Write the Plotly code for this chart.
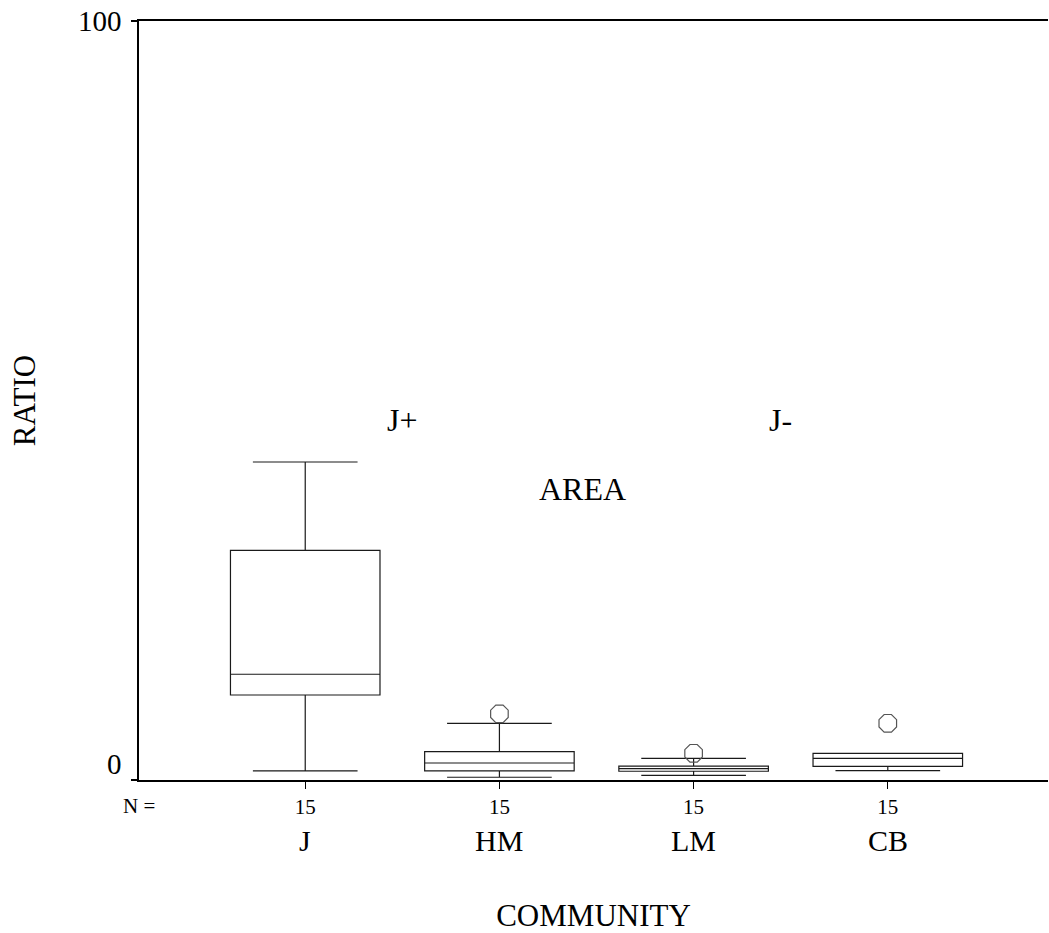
import plotly.graph_objects as go

# ---- data ----
categories = ["J", "HM", "LM", "CB"]
n_counts = ["15", "15", "15", "15"]
lower_whisker = [1.19, 0.36, 0.62, 1.23]
q1_vals = [11.2, 1.19, 1.15, 1.80]
median_vals = [13.93, 2.24, 1.50, 2.86]
q3_vals = [30.26, 3.73, 1.84, 3.52]
upper_whisker = [41.9, 7.47, 2.86, 3.52]
outlier_cat = [1, 2, 3]
outlier_vals = [8.72, 3.52, 7.47]
y_ticks = [0, 100]

FONT = "Liberation Serif, Times New Roman, serif"
positions = list(range(len(categories)))

fig = go.Figure()
for i, cat in enumerate(categories):
    fig.add_trace(go.Box(
        x=[positions[i]],
        q1=[q1_vals[i]], median=[median_vals[i]], q3=[q3_vals[i]],
        lowerfence=[lower_whisker[i]], upperfence=[upper_whisker[i]],
        width=0.77, whiskerwidth=0.7,
        fillcolor="white",
        line=dict(color="#1a1a1a", width=1.2),
        boxpoints=False, name=cat, showlegend=False, hoverinfo="skip",
    ))

fig.add_trace(go.Scatter(
    x=outlier_cat, y=outlier_vals, mode="markers",
    marker=dict(symbol="octagon-open", size=19, color="#555555", line=dict(width=1.2)),
    showlegend=False, hoverinfo="skip",
))

annotations = []
# y tick labels
for v in y_ticks:
    annotations.append(dict(x=0, y=v, xref="paper", yref="y", text=str(v),
                            showarrow=False, xanchor="right", yanchor="middle",
                            xshift=-15, yshift=(16 if v == 0 else 0),
                            font=dict(family=FONT, size=29, color="black")))
# category names below N labels
for i, cat in enumerate(categories):
    annotations.append(dict(x=positions[i], y=-0.08, xref="x", yref="paper",
                            text=cat, showarrow=False,
                            font=dict(family=FONT, size=30, color="black"),
                            yanchor="middle"))
annotations.append(dict(x=0, y=-0.034, xref="paper", yref="paper", text="N =",
                        showarrow=False, font=dict(family=FONT, size=21, color="black"),
                        xanchor="center", yanchor="middle"))
annotations += [
    dict(x=0.5, y=47.4, xref="x", yref="y", text="J+", showarrow=False,
         font=dict(family=FONT, size=32, color="black")),
    dict(x=2.448, y=47.4, xref="x", yref="y", text="J-", showarrow=False,
         font=dict(family=FONT, size=32, color="black")),
    dict(x=1.428, y=38.4, xref="x", yref="y", text="AREA", showarrow=False,
         font=dict(family=FONT, size=32, color="black")),
]

fig.update_layout(
    width=1049, height=933,
    margin=dict(l=139, r=1, t=21, b=153),
    plot_bgcolor="white", paper_bgcolor="white",
    font=dict(family=FONT, color="black"),
    annotations=annotations,
    xaxis=dict(
        range=[-0.856, 3.825],
        tickmode="array", tickvals=positions, ticktext=n_counts,
        tickfont=dict(family=FONT, size=21, color="black"),
        ticks="outside", ticklen=7, tickcolor="black", tickwidth=1,
        showline=True, linecolor="black", linewidth=1.5, mirror=True,
        showgrid=False, zeroline=False,
        title=dict(text="COMMUNITY", font=dict(family=FONT, size=31, color="black"), standoff=90),
    ),
    yaxis=dict(
        range=[0, 100],
        tickmode="array", tickvals=y_ticks, showticklabels=False,
        ticks="outside", ticklen=6, tickcolor="black", tickwidth=1.5,
        showline=True, linecolor="black", linewidth=1.5,
        showgrid=False, zeroline=False,
        title=dict(text="RATIO", font=dict(family=FONT, size=31, color="black"), standoff=86),
    ),
)

fig.write_html("out.html")
